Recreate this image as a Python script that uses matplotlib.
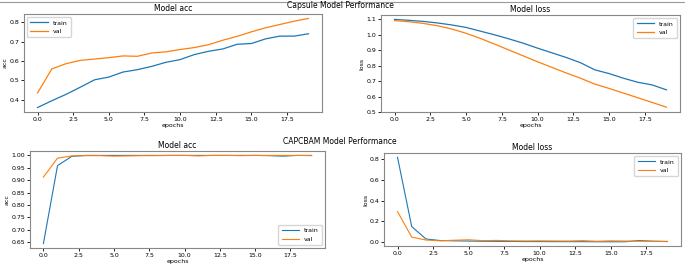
import matplotlib
matplotlib.use("Agg")
import matplotlib.pyplot as plt
from matplotlib.lines import Line2D

epochs = list(range(20))

# Capsule model
caps_acc_train = [0.360, 0.395, 0.428, 0.465, 0.503, 0.517, 0.543, 0.555, 0.572, 0.593,
                  0.607, 0.633, 0.650, 0.662, 0.686, 0.690, 0.714, 0.728, 0.728, 0.740]
caps_acc_val = [0.435, 0.559, 0.586, 0.603, 0.610, 0.617, 0.626, 0.624, 0.641, 0.647,
                0.659, 0.669, 0.684, 0.707, 0.727, 0.750, 0.771, 0.788, 0.805, 0.819]
caps_loss_train = [1.098, 1.092, 1.085, 1.075, 1.062, 1.046, 1.022, 0.998, 0.972, 0.944,
                   0.912, 0.882, 0.852, 0.818, 0.772, 0.748, 0.718, 0.692, 0.675, 0.643]
caps_loss_val = [1.090, 1.083, 1.072, 1.057, 1.036, 1.008, 0.975, 0.938, 0.900, 0.862,
                 0.824, 0.788, 0.752, 0.718, 0.680, 0.652, 0.622, 0.592, 0.562, 0.531]

# CAPCBAM model
cbam_acc_train = [0.645, 0.958, 0.995, 0.999, 0.999, 0.999, 0.999, 0.999, 0.999, 0.999,
                  0.999, 0.999, 0.999, 0.999, 0.999, 0.999, 0.998, 0.996, 0.999, 0.999]
cbam_acc_val = [0.912, 0.988, 0.997, 0.998, 0.998, 0.996, 0.997, 0.998, 0.998, 0.999,
                0.999, 0.997, 0.999, 0.999, 0.998, 0.999, 0.999, 0.999, 0.999, 0.998]
cbam_loss_train = [0.820, 0.150, 0.030, 0.015, 0.012, 0.010, 0.008, 0.007, 0.006, 0.005,
                   0.005, 0.004, 0.004, 0.004, 0.003, 0.003, 0.003, 0.015, 0.008, 0.005]
cbam_loss_val = [0.295, 0.048, 0.020, 0.012, 0.018, 0.022, 0.014, 0.016, 0.012, 0.011,
                 0.012, 0.011, 0.010, 0.014, 0.008, 0.012, 0.010, 0.008, 0.008, 0.007]

W, H = 685, 268
fig = plt.figure(figsize=(W / 100, H / 100), dpi=100)

def box(l, t, r, b):
    return [l / W, 1 - b / H, (r - l) / W, (b - t) / H]

def panel(rect, train, val, title, ylabel, loc, lw, yticks=None):
    ax = fig.add_axes(box(*rect))
    ax.plot(epochs, train, color='#1f77b4', lw=lw, label='train')
    ax.plot(epochs, val, color='#ff7f0e', lw=lw, label='val')
    ax.set_title(title, fontsize=5.5, pad=2)
    ax.set_xlabel('epochs', fontsize=4.5, labelpad=1)
    ax.set_ylabel(ylabel, fontsize=4.5, labelpad=1)
    ax.set_xticks([0, 2.5, 5, 7.5, 10, 12.5, 15, 17.5])
    if yticks is not None:
        ax.set_yticks(yticks)
    ax.tick_params(labelsize=4.5, length=2, pad=1.5, width=0.6)
    for s in ax.spines.values():
        s.set_color('#888888')
        s.set_linewidth(0.8)
    ax.legend(loc=loc, fontsize=4.5, handlelength=2.8, borderpad=0.5, labelspacing=0.5)
    return ax

panel((24, 14, 322, 112), caps_acc_train, caps_acc_val, 'Model acc', 'acc', 'upper left', 0.9,
      [0.4, 0.5, 0.6, 0.7, 0.8])
panel((381, 15, 680, 112), caps_loss_train, caps_loss_val, 'Model loss', 'loss', 'upper right', 0.9,
      [0.5, 0.6, 0.7, 0.8, 0.9, 1.0, 1.1])
panel((30, 151, 325, 248), cbam_acc_train, cbam_acc_val, 'Model acc', 'acc', 'lower right', 0.8,
      [0.65, 0.70, 0.75, 0.80, 0.85, 0.90, 0.95, 1.00])
panel((384, 153, 681, 246), cbam_loss_train, cbam_loss_val, 'Model loss', 'loss', 'upper right', 0.8,
      [0.0, 0.2, 0.4, 0.6, 0.8])

fig.text(340 / W, 1 - 6 / H, 'Capsule Model Performance', ha='center', va='center', fontsize=5.5)
fig.text(340 / W, 1 - 142 / H, 'CAPCBAM Model Performance', ha='center', va='center', fontsize=5.5)
fig.add_artist(Line2D([0, 1], [1 - 1.5 / H, 1 - 1.5 / H], color='#999999', lw=0.8))

fig.savefig('out.png', dpi=100)
